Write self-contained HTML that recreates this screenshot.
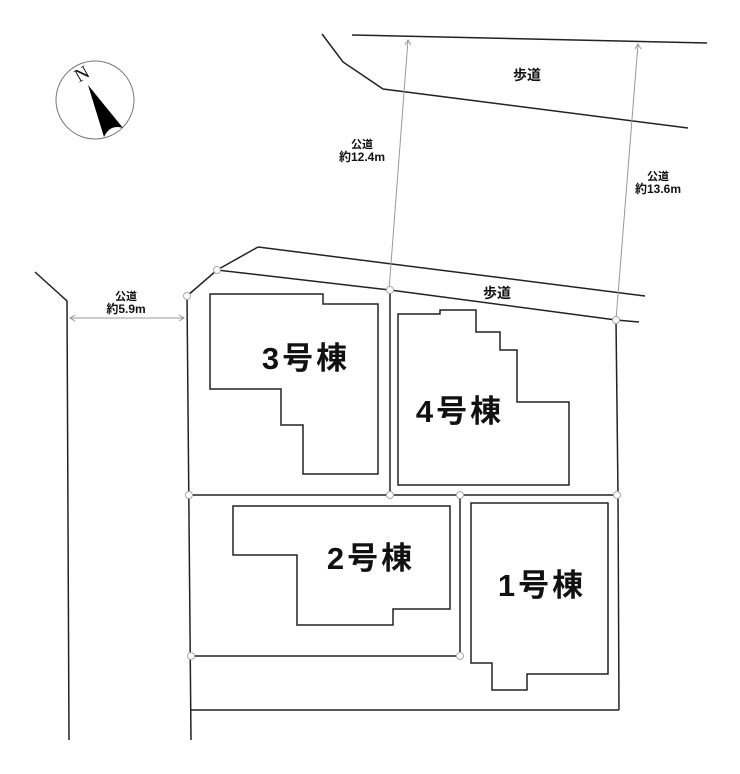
<!DOCTYPE html>
<html><head><meta charset="utf-8"><style>
html,body{margin:0;padding:0;background:#fff;}
svg{display:block;}
text{font-family:"Liberation Sans","Noto Sans CJK JP",sans-serif;font-weight:bold;fill:#111;}
</style></head><body>
<svg width="740" height="774" viewBox="0 0 740 774" xmlns="http://www.w3.org/2000/svg">
<g fill="none" stroke="#222" stroke-width="1.5">
<polyline points="322,34 343,62 383,89 688,128"/>
<line x1="352" y1="35" x2="707" y2="43"/>
<line x1="258" y1="247" x2="645" y2="296"/>
<polyline points="187,296 217,270 390,290 616,320 639,322"/>
<line x1="217" y1="270" x2="258" y2="247"/>
<polyline points="35,272 67,301 69,740"/>
<polyline points="187,296 191,740"/>
<line x1="390" y1="290" x2="390" y2="495"/>
<line x1="189" y1="495" x2="616" y2="495"/>
<polyline points="616,320 618,495 619,710"/>
<line x1="460" y1="495" x2="460" y2="656"/>
<line x1="191" y1="656" x2="460" y2="656"/>
<line x1="191" y1="710" x2="619" y2="710"/>
<polygon points="210,294 323,294 323,304 378,304 378,474 303,474 303,425 281,425 281,389 210,389"/>
<polygon points="398,314 440,314 440,310 476,310 476,332 500,332 500,350 517,350 517,402 569,402 569,485 398,485"/>
<polygon points="233,506 450,506 450,609 393,609 393,625 297,625 297,555 233,555"/>
<polygon points="471,503 608,503 608,674 527,674 527,690 492,690 492,663 471,663"/>
</g>
<g stroke="#999" stroke-width="1" fill="none">
<line x1="408" y1="40" x2="389" y2="290"/>
<line x1="638" y1="44" x2="616" y2="320"/>
<line x1="70" y1="318" x2="184" y2="318"/>
<polyline points="405,45 408,40 411,45"/>
<polyline points="635,49 638,44 641,49"/>
<polyline points="75,315 70,318 75,321"/>
<polyline points="179,315 184,318 179,321"/>
</g>
<g fill="#fff" stroke="#aaa" stroke-width="1">
<circle cx="217" cy="270" r="3.5"/><circle cx="187" cy="296" r="3.5"/>
<circle cx="390" cy="290" r="3.5"/><circle cx="616" cy="320" r="3.5"/>
<circle cx="189" cy="495" r="3.5"/><circle cx="390" cy="495" r="3.5"/>
<circle cx="460" cy="495" r="3.5"/><circle cx="617" cy="495" r="3.5"/>
<circle cx="191" cy="656" r="3.5"/><circle cx="460" cy="656" r="3.5"/>
</g>
<circle cx="95" cy="100" r="39" fill="none" stroke="#777" stroke-width="1"/>
<path d="M88,85 L123,128 Q110,124 104,137 Z" fill="#000"/>
<text x="82" y="80" font-size="19" text-anchor="middle" transform="rotate(-30 82 74)" style="font-weight:normal;font-family:'Liberation Serif',serif">N</text>
<text x="527" y="80" font-size="14" text-anchor="middle">歩道</text>
<text x="497" y="298" font-size="14" text-anchor="middle">歩道</text>
<text x="362" y="148" font-size="11" text-anchor="middle">公道</text>
<text x="362" y="161" font-size="12" text-anchor="middle">約12.4m</text>
<text x="658" y="180" font-size="11" text-anchor="middle">公道</text>
<text x="658" y="193" font-size="12" text-anchor="middle">約13.6m</text>
<text x="126" y="300" font-size="11" text-anchor="middle">公道</text>
<text x="126" y="313" font-size="12" text-anchor="middle">約5.9m</text>
<g font-size="31" text-anchor="middle" letter-spacing="3">
<text x="306" y="369">3号棟</text>
<text x="460" y="422">4号棟</text>
<text x="371" y="569">2号棟</text>
<text x="542" y="596">1号棟</text>
</g>
</svg>
</body></html>
